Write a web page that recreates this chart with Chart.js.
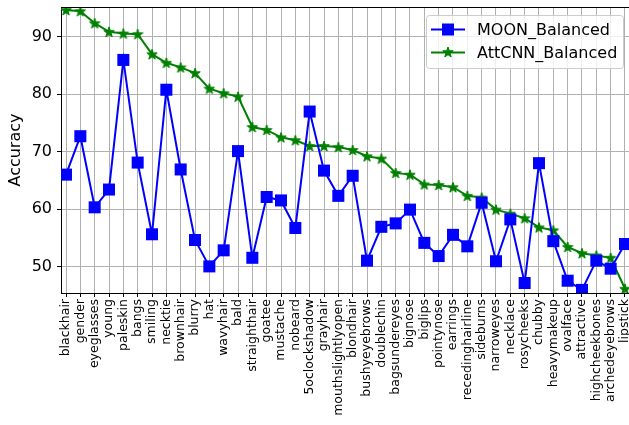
<!DOCTYPE html>
<html lang="en">
<head>
  <meta charset="UTF-8" />
  <title>MOON vs AttCNN accuracy</title>
  <script src="https://cdn.jsdelivr.net/npm/chart.js"></script>
  <style>
    body { margin: 0; background: #fff; }
    #wrap { width: 629px; height: 425px; position: relative; }
  </style>
</head>
<body>
  <div id="wrap"><canvas id="chart" width="629" height="425"></canvas></div>

  <script>
    const attributes = ["blackhair", "gender", "eyeglasses", "young", "paleskin", "bangs", "smiling",
      "necktie", "brownhair", "blurry", "hat", "wavyhair", "bald", "straighthair", "goatee", "mustache",
      "nobeard", "5oclockshadow", "grayhair", "mouthslightlyopen", "blondhair", "bushyeyebrows",
      "doublechin", "bagsundereyes", "bignose", "biglips", "pointynose", "earrings", "recedinghairline",
      "sideburns", "narroweyes", "necklace", "rosycheeks", "chubby", "heavymakeup", "ovalface",
      "attractive", "highcheekbones", "archedeyebrows", "lipstick"];

    const moonBalanced = [66.0, 72.7, 60.3, 63.4, 86.0, 68.1, 55.6, 80.8, 66.9, 54.6, 50.0, 52.8,
      70.1, 51.5, 62.1, 61.5, 56.7, 77.0, 66.7, 62.3, 65.8, 51.0, 56.9, 57.5, 59.9, 54.1, 51.8,
      55.5, 53.5, 61.1, 50.9, 58.2, 47.1, 68.0, 54.4, 47.5, 45.9, 51.0, 49.6, 53.9];

    const attcnnBalanced = [94.7, 94.5, 92.4, 90.9, 90.6, 90.5, 87.0, 85.5, 84.7, 83.7, 81.0, 80.2,
      79.6, 74.3, 73.8, 72.5, 72.0, 71.0, 71.0, 70.8, 70.3, 69.2, 68.8, 66.3, 66.0, 64.3, 64.2,
      63.8, 62.3, 62.0, 59.9, 59.2, 58.4, 56.8, 56.3, 53.4, 52.3, 51.9, 51.5, 46.1];

    const yTicks = [50, 60, 70, 80, 90];

    // matplotlib-like filled star marker
    function makeStar(size, fill, edge) {
      const c = document.createElement("canvas");
      c.width = size; c.height = size;
      const g = c.getContext("2d");
      const cx = size / 2, cy = size / 2 + 0.5, R = size / 2 - 0.5, r = R * 0.4;
      g.beginPath();
      for (let k = 0; k < 10; k++) {
        const rad = k % 2 ? r : R;
        const a = -Math.PI / 2 + k * Math.PI / 5;
        g.lineTo(cx + rad * Math.cos(a), cy + rad * Math.sin(a));
      }
      g.closePath();
      g.fillStyle = fill; g.fill();
      g.strokeStyle = edge; g.lineWidth = 1; g.stroke();
      return c;
    }
    const star = makeStar(12, "#008000", "#008000");

    const FONT = "'DejaVu Sans', sans-serif";

    const topSpine = {
      id: "topSpine",
      afterDraw(chart) {
        const { ctx, chartArea: a } = chart;
        ctx.save();
        ctx.strokeStyle = "#000";
        ctx.lineWidth = 1;
        ctx.beginPath();
        ctx.moveTo(a.left, a.top + 0.5);
        ctx.lineTo(a.right, a.top + 0.5);
        ctx.stroke();
        ctx.restore();
      }
    };

    // legend drawn like matplotlib: line + marker + label in a rounded box
    const mplLegend = {
      id: "mplLegend",
      afterDraw(chart) {
        const ctx = chart.ctx;
        const x = 426, y = 15, w = 197, h = 53;
        ctx.save();
        ctx.fillStyle = "rgba(255,255,255,0.8)";
        ctx.strokeStyle = "#cccccc";
        ctx.lineWidth = 1;
        ctx.beginPath();
        ctx.roundRect(x + 0.5, y + 0.5, w, h, 3);
        ctx.fill();
        ctx.stroke();

        const rows = [
          { label: "MOON_Balanced", color: "#0000ff", cy: 29.5, marker: "rect" },
          { label: "AttCNN_Balanced", color: "#008000", cy: 52.5, marker: "star" }
        ];
        rows.forEach(r => {
          ctx.strokeStyle = r.color;
          ctx.lineWidth = 2;
          ctx.beginPath();
          ctx.moveTo(431, r.cy);
          ctx.lineTo(465, r.cy);
          ctx.stroke();
          if (r.marker === "rect") {
            ctx.fillStyle = r.color;
            ctx.fillRect(442, r.cy - 6, 12, 12);
          } else {
            ctx.drawImage(star, 442, r.cy - 6.5);
          }
          ctx.fillStyle = "#000";
          ctx.font = "16px " + FONT;
          ctx.textBaseline = "middle";
          ctx.fillText(r.label, 477, r.cy + 1);
        });
        ctx.restore();
      }
    };

    new Chart(document.getElementById("chart"), {
      type: "line",
      data: {
        datasets: [
          {
            label: "MOON_Balanced",
            data: moonBalanced.map((v, i) => ({ x: i, y: v })),
            borderColor: "#0000ff",
            backgroundColor: "#0000ff",
            borderWidth: 2,
            pointStyle: "rect",
            pointRadius: 8.5,
            pointBorderWidth: 0,
            pointHoverRadius: 8.5,
            clip: 0
          },
          {
            label: "AttCNN_Balanced",
            data: attcnnBalanced.map((v, i) => ({ x: i, y: v })),
            borderColor: "#008000",
            backgroundColor: "#008000",
            borderWidth: 2,
            pointStyle: star,
            pointRadius: 6,
            clip: 0
          }
        ]
      },
      options: {
        responsive: false,
        animation: false,
        layout: { autoPadding: false, padding: { top: 7, right: 0, left: 0, bottom: 0 } },
        plugins: { legend: { display: false }, tooltip: { enabled: false } },
        scales: {
          x: {
            type: "linear",
            min: -0.35,
            max: 39.28,
            afterBuildTicks: axis => { axis.ticks = attributes.map((_, i) => ({ value: i })); },
            afterFit: axis => {
              axis.height = 132;
              axis.paddingLeft = 0; axis.paddingRight = 0;
            },
            ticks: {
              autoSkip: false,
              minRotation: 90,
              maxRotation: 90,
              padding: 2,
              color: "#000",
              font: { family: FONT, size: 12.5 },
              callback: v => attributes[v]
            },
            grid: { color: "#b0b0b0", lineWidth: 1, tickColor: "#000", tickLength: 4 },
            border: { color: "#000", width: 1 }
          },
          y: {
            min: 45.36,
            max: 95.23,
            afterBuildTicks: axis => { axis.ticks = yTicks.map(v => ({ value: v })); },
            afterFit: axis => {
              axis.width = 61;
              axis.paddingTop = 0; axis.paddingBottom = 0;
            },
            ticks: {
              color: "#000",
              padding: 5,
              font: { family: FONT, size: 16 }
            },
            title: {
              display: true,
              text: "Accuracy",
              color: "#000",
              padding: { top: 6, bottom: 0 },
              font: { family: FONT, size: 16 }
            },
            grid: { color: "#b0b0b0", lineWidth: 1, tickColor: "#000", tickLength: 4 },
            border: { color: "#000", width: 1 }
          }
        }
      },
      plugins: [topSpine, mplLegend]
    });
  </script>
</body>
</html>
